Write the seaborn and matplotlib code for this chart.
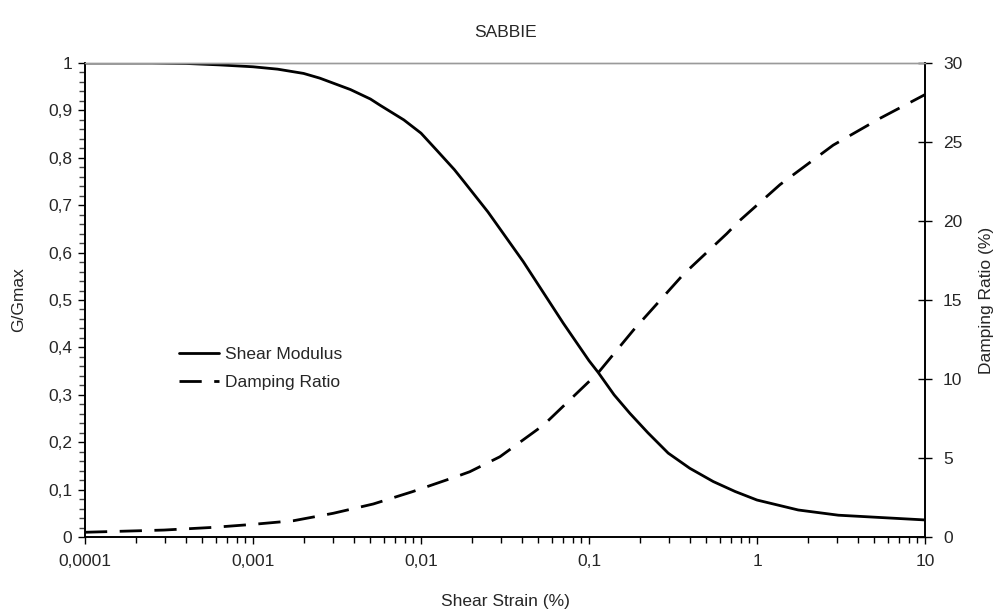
import matplotlib
matplotlib.use("Agg")
import matplotlib.pyplot as plt
from matplotlib.ticker import FixedLocator, FuncFormatter, LogLocator, NullFormatter
import seaborn as sns
import pandas as pd

# Shear modulus reduction curve (strain in %, G/Gmax)
modulus_strain = [0.0001, 0.00025, 0.0004, 0.00063, 0.001, 0.0014, 0.002, 0.0025,
                  0.0038, 0.005, 0.0057, 0.0079, 0.01, 0.0124, 0.0158, 0.0179,
                  0.025, 0.0282, 0.0406, 0.0703, 0.1, 0.1135, 0.141,
                  0.175, 0.224, 0.296, 0.398, 0.549, 0.741, 1.0, 1.76, 3.05, 10.0]
modulus_ratio = [1.0, 1.0, 0.999, 0.996, 0.992, 0.987, 0.978, 0.968,
                 0.944, 0.924, 0.911, 0.880, 0.852, 0.816, 0.775, 0.751,
                 0.686, 0.660, 0.581, 0.451, 0.372, 0.347, 0.300,
                 0.261, 0.220, 0.177, 0.145, 0.117, 0.096, 0.078, 0.057, 0.046, 0.036]

# Damping ratio curve (strain in %, damping in %)
damping_strain = [0.0001, 0.000295, 0.00058, 0.001, 0.00174, 0.003, 0.0052, 0.0089,
                  0.0162, 0.0195, 0.0295, 0.0537, 0.1135, 0.184, 0.363, 0.457,
                  0.661, 0.776, 1.37, 2.84, 5.4, 10.0]
damping_ratio = [0.3, 0.44, 0.61, 0.80, 1.03, 1.50, 2.09, 2.87,
                 3.82, 4.13, 5.08, 7.09, 10.4, 13.1, 16.6, 17.6,
                 19.2, 19.96, 22.3, 24.8, 26.5, 28.0]

x_ticks = [0.0001, 0.001, 0.01, 0.1, 1, 10]
g_ticks = [0, 0.1, 0.2, 0.3, 0.4, 0.5, 0.6, 0.7, 0.8, 0.9, 1.0]
d_ticks = [0, 5, 10, 15, 20, 25, 30]

sns.set_style("white")
plt.rcParams["font.family"] = ["Liberation Sans", "DejaVu Sans"]
plt.rcParams["font.size"] = 12.5

df_g = pd.DataFrame({"strain": modulus_strain, "ratio": modulus_ratio})
df_d = pd.DataFrame({"strain": damping_strain, "damping": damping_ratio})

fig = plt.figure(figsize=(9.94, 6.11), dpi=100)
ax = fig.add_axes([0.0855, 0.1211, 0.8451, 0.7758])
ax2 = ax.twinx()

sns.lineplot(data=df_g, x="strain", y="ratio", ax=ax, color="black",
             linewidth=2.0, label="Shear Modulus", legend=False)
sns.lineplot(data=df_d, x="strain", y="damping", ax=ax2, color="black",
             linewidth=2.0, ls=(0, (8, 4.5)), label="Damping Ratio", legend=False)

comma = lambda v: ("%g" % v).replace(".", ",")

ax.set_xscale("log")
ax.set_xlim(0.0001, 10)
ax.set_ylim(0, 1)
ax2.set_ylim(0, 30)

ax.xaxis.set_major_locator(FixedLocator(x_ticks))
ax.xaxis.set_major_formatter(FuncFormatter(lambda v, p: comma(v)))
ax.xaxis.set_minor_locator(LogLocator(base=10, subs=range(2, 10), numticks=20))
ax.xaxis.set_minor_formatter(NullFormatter())

ax.yaxis.set_major_locator(FixedLocator(g_ticks))
ax.yaxis.set_minor_locator(FixedLocator([i * 0.02 for i in range(51)]))
ax.yaxis.set_major_formatter(FuncFormatter(lambda v, p: comma(round(v, 1))))
ax2.yaxis.set_major_locator(FixedLocator(d_ticks))
ax2.yaxis.set_major_formatter(FuncFormatter(lambda v, p: "%d" % v))

ax.tick_params(axis="x", which="major", direction="out", length=5, width=1,
               color="black", labelsize=12.5, pad=7, bottom=True)
ax.tick_params(axis="x", which="minor", direction="out", length=4, width=1,
               color="black", bottom=True)
ax.tick_params(axis="y", which="major", direction="out", length=5, width=1,
               color="black", labelsize=12.5, pad=4, left=True)
ax.tick_params(axis="y", which="minor", direction="out", length=4, width=1,
               color="#444444", left=True)
ax2.tick_params(axis="y", which="major", direction="inout", length=10, width=1,
                color="black", labelsize=12.5, pad=8, right=True)

for a in (ax, ax2):
    for side in ("left", "bottom", "right"):
        a.spines[side].set_color("black")
        a.spines[side].set_linewidth(1.2)
    a.spines["top"].set_color("#9a9a9a")
    a.spines["top"].set_linewidth(1.0)

ax.set_xlabel("Shear Strain (%)", fontsize=12.5, labelpad=18)
ax.set_ylabel("G/Gmax", fontsize=12.5, labelpad=16)
ax2.set_ylabel("Damping Ratio (%)", fontsize=12.5, labelpad=12)
ax.set_title("SABBIE", fontsize=12.5, pad=19)

handles = ax.get_lines()[:1] + ax2.get_lines()[:1]
ax.legend(handles, ["Shear Modulus", "Damping Ratio"], frameon=False,
          loc="center left", bbox_to_anchor=(0.093, 0.355), fontsize=12.5,
          handlelength=2.3, handletextpad=0.35, labelspacing=0.75)

fig.savefig("out.png", dpi=100, facecolor="white")
